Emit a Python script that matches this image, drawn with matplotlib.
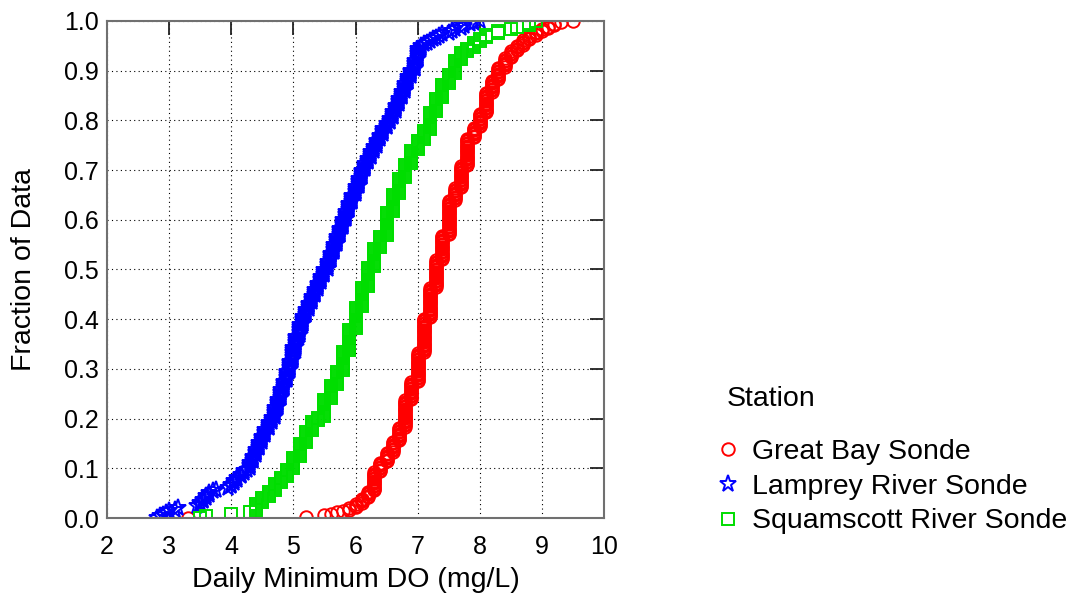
import numpy as np
import matplotlib
matplotlib.use("Agg")
import matplotlib.pyplot as plt

plt.rcParams['font.family'] = ['Liberation Sans', 'DejaVu Sans']

# Great Bay Sonde: daily minimum DO values (0.1 mg/L steps) and number of days at each
gb_vals = [3.3, 5.2, 5.5, 5.6, 5.7, 5.8, 5.9, 6.0, 6.1, 6.2, 6.3, 6.4, 6.5, 6.6, 6.7, 6.8,
           6.9, 7.0, 7.1, 7.2, 7.3, 7.4, 7.5, 7.6, 7.7, 7.8, 7.9, 8.0, 8.1, 8.2, 8.3, 8.4,
           8.5, 8.6, 8.7, 8.8, 8.9, 9.0, 9.1, 9.2, 9.3, 9.5]
gb_counts = [1, 1, 1, 1, 1, 1, 2, 3, 4, 5, 14, 7, 7, 8, 10, 20,
             13, 21, 25, 22, 20, 18, 25, 9, 16, 20, 8, 10, 15, 9, 9, 7,
             5, 4, 4, 3, 3, 2, 2, 2, 1, 1]

# Lamprey River Sonde
lr_vals = [2.8, 2.85, 2.9, 2.95, 3.0, 3.1, 3.15,
           3.45, 3.5, 3.55, 3.6, 3.65, 3.7, 3.75,
           3.95, 4.0, 4.05, 4.1, 4.15, 4.2, 4.25,
           4.3, 4.35, 4.4, 4.45, 4.5, 4.55, 4.6, 4.65,
           4.7, 4.75, 4.8, 4.85, 4.9, 4.95,
           5.0, 5.05, 5.1, 5.15,
           5.2, 5.25, 5.3, 5.35, 5.4, 5.45, 5.5,
           5.55, 5.6, 5.65, 5.7, 5.75, 5.8,
           5.85, 5.9, 5.95, 6.0, 6.05, 6.1,
           6.15, 6.2, 6.25, 6.3, 6.35, 6.4, 6.45, 6.5, 6.55,
           6.6, 6.65, 6.7, 6.75, 6.8, 6.85, 6.9,
           6.95, 7.0, 7.05,
           7.1, 7.15, 7.2, 7.25, 7.3, 7.35, 7.4, 7.5, 7.55, 7.6, 7.7, 7.75, 7.85, 7.9, 8.0]
lr_counts = [1, 1, 1, 1, 1, 1, 1,
             1, 2, 2, 2, 2, 1, 1,
             1, 2, 2, 2, 2, 2, 1,
             4, 4, 4, 4, 4, 4, 4, 3,
             6, 5, 6, 5, 6, 6,
             8, 7, 7, 5,
             4, 4, 4, 4, 4, 4, 4,
             5, 5, 5, 5, 5, 5,
             5, 5, 5, 5, 5, 5,
             4, 3, 4, 3, 4, 3, 4, 3, 3,
             4, 4, 4, 4, 5, 4, 4,
             6, 7, 2,
             1, 1, 1, 1, 1, 1, 1, 1, 1, 1, 1, 1, 1, 1, 1]

# Squamscott River Sonde
sr_vals = [3.5, 3.6, 4.0, 4.3, 4.4, 4.5, 4.6, 4.7, 4.8, 4.9, 5.0, 5.1, 5.2, 5.3, 5.4,
           5.5, 5.6, 5.7, 5.8, 5.9, 6.0, 6.1, 6.2, 6.3, 6.4, 6.5, 6.6, 6.7, 6.8, 6.9,
           7.0, 7.1, 7.2, 7.3, 7.4, 7.5, 7.6, 7.7, 7.8, 7.9, 8.0, 8.1, 8.3, 8.5, 8.6,
           8.8, 8.9]
sr_counts = [1, 1, 1, 1, 4, 3, 3, 4, 3, 4, 6, 7, 6, 5, 2,
             9, 7, 7, 10, 11, 11, 10, 10, 10, 6, 12, 9, 8, 7, 7,
             5, 5, 9, 7, 7, 5, 7, 4, 2, 3, 2, 2, 2, 1, 1,
             2, 1]

stations = ["Great Bay Sonde", "Lamprey River Sonde", "Squamscott River Sonde"]
colors = ["#ff0000", "#0000ff", "#00dd00"]
markers = ["o", "*", "s"]
sizes = [9, 12.5, 8.5]


def ecdf(vals, counts):
    x = np.repeat(vals, counts)
    n = len(x)
    y = np.arange(n) / (n - 1)
    return x, y


fig = plt.figure(figsize=(10.85, 5.99), dpi=100)
ax = fig.add_axes([0.0986, 0.1352, 0.4581, 0.8298])

handles = []
for (vals, counts), name, c, m, s in zip(
        [(gb_vals, gb_counts), (lr_vals, lr_counts), (sr_vals, sr_counts)],
        stations, colors, markers, sizes):
    x, y = ecdf(vals, counts)
    h, = ax.plot(x, y, linestyle="none", marker=m, ms=s, mfc="none", mec=c,
                 mew=1.4, label=name)
    handles.append(h)

ax.set_xlim(2, 10)
ax.set_ylim(0, 1)
ax.set_xticks(np.arange(2, 11, 1))
ax.set_yticks(np.arange(0, 1.01, 0.1))
ax.set_yticklabels(["%.1f" % v for v in np.arange(0, 1.01, 0.1)])
ax.grid(True, color="black", linestyle=(0, (1, 3)), linewidth=0.8)
ax.tick_params(axis="both", which="major", direction="in", length=10, width=1.3,
               bottom=False, left=False, top=True, right=True,
               labelbottom=True, labelleft=True, labelsize=18, color="#222222")
ax.tick_params(axis="x", pad=12)
ax.tick_params(axis="y", pad=6)
for sp in ax.spines.values():
    sp.set_color("#707070")
    sp.set_linewidth(1.5)

ax.set_xlabel("Daily Minimum DO (mg/L)", fontsize=20.5, labelpad=6)
ax.set_ylabel("Fraction of Data", fontsize=20.5, labelpad=19)

fig.text(727 / 1085, 1 - 399 / 599, "Station", fontsize=20.5, va="center", ha="left")
fig.legend(handles=handles, loc="upper left", bbox_to_anchor=(702 / 1085, 1 - 428 / 599),
           frameon=False, fontsize=20.5, handlelength=1.0, handletextpad=0.35,
           labelspacing=0.3, borderaxespad=0)

fig.savefig("out.png", dpi=100)
